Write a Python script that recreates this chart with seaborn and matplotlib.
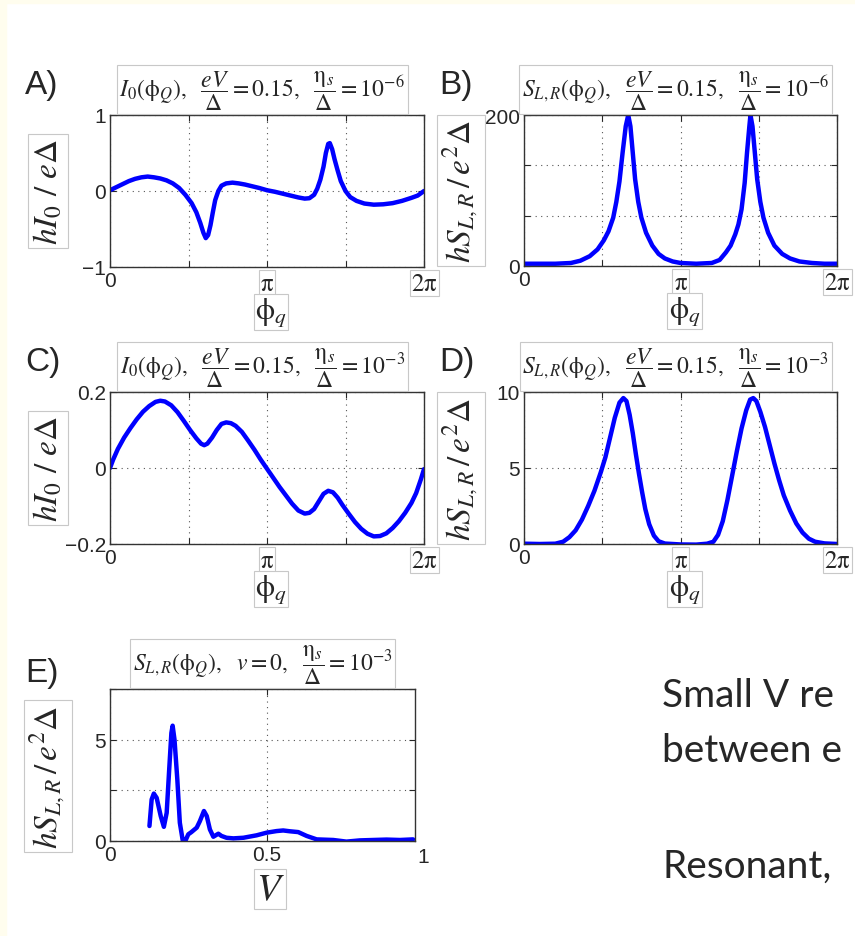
import numpy as np
import matplotlib
matplotlib.use('Agg')
import matplotlib.pyplot as plt
import seaborn as sns
from matplotlib.patches import Rectangle

# --- data (phase in units of pi) ---
a_phi = [0, 0.04, 0.08, 0.12, 0.16, 0.2, 0.24, 0.28, 0.32, 0.36, 0.40, 0.44, 0.48, 0.52,
         0.55, 0.575, 0.595, 0.61, 0.625, 0.64, 0.655, 0.67, 0.69, 0.71, 0.74, 0.78, 0.82,
         0.86, 0.90, 0.95, 1.0, 1.05, 1.10, 1.15, 1.20, 1.24, 1.27, 1.30, 1.32, 1.34, 1.36,
         1.375, 1.39, 1.40, 1.415, 1.43, 1.45, 1.47, 1.50, 1.53, 1.57, 1.62, 1.68, 1.74,
         1.80, 1.86, 1.92, 1.96, 2.0]
a_val = [0.01, 0.05, 0.09, 0.13, 0.16, 0.18, 0.19, 0.18, 0.165, 0.14, 0.10, 0.04, -0.05, -0.16,
         -0.28, -0.42, -0.55, -0.62, -0.58, -0.45, -0.28, -0.12, 0.0, 0.07, 0.10, 0.11, 0.10,
         0.085, 0.065, 0.04, 0.01, -0.01, -0.035, -0.06, -0.085, -0.1, -0.095, -0.05, 0.03, 0.15, 0.32,
         0.5, 0.62, 0.63, 0.55, 0.42, 0.27, 0.13, 0.0, -0.08, -0.13, -0.165, -0.18, -0.175,
         -0.16, -0.13, -0.09, -0.06, 0.0]

b_phi = [0, 0.1, 0.2, 0.3, 0.36, 0.42, 0.47, 0.51, 0.54, 0.57, 0.59, 0.61, 0.63, 0.65, 0.666,
         0.68, 0.695, 0.71, 0.73, 0.75, 0.78, 0.82, 0.86, 0.9, 0.95, 1.0, 1.1, 1.2, 1.25, 1.29,
         1.32, 1.35, 1.37, 1.39, 1.41, 1.425, 1.44, 1.447, 1.46, 1.475, 1.49, 1.51, 1.53, 1.56,
         1.6, 1.65, 1.7, 1.76, 1.84, 1.92, 2.0]
b_val = [3, 3, 3, 4, 7, 13, 22, 34, 46, 64, 85, 112, 150, 185, 200,
         185, 150, 115, 85, 64, 44, 27, 16, 10, 6, 4, 3, 4, 8, 18,
         27, 42, 55, 75, 110, 150, 185, 200, 185, 150, 115, 85, 64, 44,
         27, 16, 10, 6, 4, 3, 3]

c_phi = [0, 0.02, 0.05, 0.09, 0.13, 0.17, 0.21, 0.25, 0.29, 0.32, 0.35, 0.39, 0.43, 0.47,
         0.51, 0.55, 0.58, 0.60, 0.62, 0.65, 0.68, 0.71, 0.74, 0.77, 0.80, 0.84, 0.88, 0.92,
         0.96, 1.0, 1.04, 1.08, 1.12, 1.16, 1.2, 1.24, 1.27, 1.30, 1.33, 1.36, 1.39, 1.42,
         1.45, 1.48, 1.52, 1.56, 1.60, 1.64, 1.68, 1.72, 1.76, 1.80, 1.84, 1.88, 1.92, 1.95,
         1.98, 2.0]
c_val = [0.0, 0.022, 0.05, 0.08, 0.105, 0.128, 0.148, 0.163, 0.174, 0.177, 0.175, 0.165, 0.147, 0.124,
         0.1, 0.078, 0.064, 0.06, 0.064, 0.08, 0.1, 0.116, 0.12, 0.118, 0.111, 0.095, 0.072, 0.048,
         0.022, -0.002, -0.026, -0.05, -0.072, -0.094, -0.112, -0.12, -0.118, -0.108, -0.088, -0.068, -0.06, -0.064,
         -0.078, -0.097, -0.12, -0.142, -0.16, -0.173, -0.18, -0.179, -0.172, -0.158, -0.14, -0.118, -0.092, -0.066,
         -0.03, -0.003]

d_phi = [0, 0.1, 0.2, 0.25, 0.29, 0.33, 0.37, 0.41, 0.45, 0.49, 0.52, 0.55, 0.58, 0.61, 0.635,
         0.655, 0.675, 0.695, 0.715, 0.735, 0.755, 0.775, 0.8, 0.83, 0.86, 0.9, 0.95, 1.0, 1.1,
         1.17, 1.21, 1.24, 1.27, 1.3, 1.33, 1.36, 1.39, 1.42, 1.445, 1.465, 1.485, 1.51, 1.54,
         1.57, 1.6, 1.63, 1.66, 1.7, 1.74, 1.78, 1.82, 1.86, 1.92, 2.0]
d_val = [0.02, 0.0, 0.02, 0.15, 0.45, 0.9, 1.6, 2.5, 3.5, 4.7, 5.7, 7.0, 8.3, 9.3, 9.6,
         9.4, 8.5, 7.3, 5.9, 4.6, 3.4, 2.3, 1.3, 0.55, 0.18, 0.03, 0.0, -0.03, -0.04,
         0.02, 0.15, 0.6, 1.5, 2.9, 4.5, 6.1, 7.6, 8.8, 9.5, 9.6, 9.4, 8.7, 7.7,
         6.5, 5.3, 4.2, 3.2, 2.2, 1.35, 0.75, 0.35, 0.15, 0.04, 0.0]

e_v = [0.126, 0.133, 0.14, 0.149, 0.162, 0.172, 0.181, 0.189, 0.196, 0.2, 0.206, 0.215,
       0.223, 0.232, 0.239, 0.25, 0.26, 0.277, 0.287, 0.3, 0.309, 0.319, 0.33, 0.346,
       0.356, 0.372, 0.394, 0.426, 0.468, 0.5, 0.532, 0.553, 0.574, 0.601, 0.628, 0.66,
       0.713, 0.755, 0.798, 0.84, 0.883, 0.926, 0.968]
e_val = [0.74, 2.05, 2.34, 2.13, 1.23, 0.7, 1.39, 3.52, 5.33, 5.69, 5.0, 3.03,
         0.9, 0.05, -0.05, 0.33, 0.44, 0.66, 0.98, 1.48, 1.23, 0.57, 0.21, 0.36,
         0.25, 0.16, 0.13, 0.16, 0.28, 0.41, 0.49, 0.52, 0.48, 0.44, 0.25, 0.08,
         0.05, -0.03, 0.03, 0.05, 0.07, 0.05, 0.08]

phiQ = r"\left(\mathrm{\phi}_Q\right)"
title_a = r"$I_0" + phiQ + r",\ \ \dfrac{eV}{\Delta}=0.15,\ \ \dfrac{\mathrm{\eta}_s}{\Delta}=10^{-6}$"
title_b = r"$S_{L,R}" + phiQ + r",\ \ \dfrac{eV}{\Delta}=0.15,\ \ \dfrac{\mathrm{\eta}_s}{\Delta}=10^{-6}$"
title_c = r"$I_0" + phiQ + r",\ \ \dfrac{eV}{\Delta}=0.15,\ \ \dfrac{\mathrm{\eta}_s}{\Delta}=10^{-3}$"
title_d = r"$S_{L,R}" + phiQ + r",\ \ \dfrac{eV}{\Delta}=0.15,\ \ \dfrac{\mathrm{\eta}_s}{\Delta}=10^{-3}$"
title_e = r"$S_{L,R}" + phiQ + r",\ \ v=0,\ \ \dfrac{\mathrm{\eta}_s}{\Delta}=10^{-3}$"
ylab_i = r"$hI_0\ /\ e\Delta$"
ylab_s = r"$hS_{L,R}\,/\,e^2\Delta$"

sns.set_style('white')
plt.rcParams['font.family'] = ['Liberation Sans', 'DejaVu Sans']
plt.rcParams['mathtext.fontset'] = 'stix'

W, H = 855, 937
fig = plt.figure(figsize=(W / 100, H / 100), dpi=100)
fig.patch.set_facecolor('white')
# cream strips on the edges of the slide
fig.patches.append(Rectangle((0, 0), 6 / W, 1, transform=fig.transFigure, color='#fffdee', zorder=0))
fig.patches.append(Rectangle((0, 1 - 4 / H), 1, 4 / H, transform=fig.transFigure, color='#fffdee', zorder=0))


def fx(px):
    return px / W


def fy(py):
    return 1 - py / H


def box_ax(x0, y0, x1, y1):
    return fig.add_axes([fx(x0), fy(y1), (x1 - x0) / W, (y1 - y0) / H])


boxkw = dict(boxstyle='square,pad=0.12', fc='white', ec='#c8c8c8', lw=0.8)
boxkw_s = dict(boxstyle='square,pad=0.05', fc='white', ec='#c8c8c8', lw=0.8)


def style(ax, xlim, ylim, xt, xtl, yt, ytl):
    ax.set_xlim(*xlim)
    ax.set_ylim(*ylim)
    ax.set_xticks(xt)
    ax.set_xticklabels(xtl)
    ax.set_yticks(yt)
    ax.set_yticklabels(ytl)
    ax.grid(True, color='#555555', linestyle=(0, (1, 4)), linewidth=0.8)
    ax.tick_params(direction='in', length=4, width=0.8, labelsize=15, pad=3,
                   top=True, right=True, bottom=True, left=True)
    for s in ax.spines.values():
        s.set_color('#333333')
        s.set_linewidth(1)
    ax.set_xlabel('')
    ax.set_ylabel('')
    for t in ax.get_xticklabels():
        if 'pi' in t.get_text():
            t.set_fontsize(18)
            t.set_bbox(boxkw_s)


pi_ticks = np.pi * np.array([0, 0.5, 1, 1.5, 2])
pi_labels = ['0', '', r'$\mathrm{\pi}$', '', r'$2\mathrm{\pi}$']

panels = [
    ('A)', (110, 116, 424, 268), a_phi, a_val, (-1, 1), [-1, 0, 1], ['\u22121', '0', '1'], title_a, ylab_i, 48),
    ('B)', (524, 116, 837, 267), b_phi, b_val, (0, 200), [0, 200 / 3, 400 / 3, 200], ['0', '', '', '200'], title_b, ylab_s, 461),
    ('C)', (110, 393, 424, 545), c_phi, c_val, (-0.2, 0.2), [-0.2, 0, 0.2], ['\u22120.2', '0', '0.2'], title_c, ylab_i, 48),
    ('D)', (524, 393, 837, 545), d_phi, d_val, (0, 10), [0, 5, 10], ['0', '5', '10'], title_d, ylab_s, 461),
]

line_kw = dict(color='#0000ff', linewidth=3.2, solid_joinstyle='round', solid_capstyle='round')

for lab, (x0, y0, x1, y1), xs, ys, ylim, yt, ytl, ttl, ylab, ylx in panels:
    ax = box_ax(x0, y0, x1, y1)
    sns.lineplot(x=np.array(xs) * np.pi, y=ys, ax=ax, **line_kw)
    style(ax, (0, 2 * np.pi), ylim, pi_ticks, pi_labels, yt, ytl)
    fig.text(fx(x0 - 85), fy(y0 - 22), lab, fontsize=24, ha='left', va='baseline')
    ax.annotate(ttl, xy=(0.485, 1), xycoords='axes fraction', xytext=(0, 2.5), textcoords='offset points',
                fontsize=17, ha='center', va='bottom', bbox=boxkw)
    fig.text(fx(ylx), fy((y0 + y1) / 2), ylab, fontsize=24, rotation=90, ha='center', va='center', bbox=boxkw)
    fig.text(fx((x0 + x1) / 2 + 4), fy(y1 + 45), r'$\mathrm{\phi}_q$', fontsize=22, ha='center', va='center', bbox=boxkw_s)

# panel E
ax = box_ax(110, 690, 415, 842)
sns.lineplot(x=e_v, y=e_val, ax=ax, **line_kw)
style(ax, (0, 0.974), (0, 7.5), [0, 0.5], ['0', '0.5'], [0, 2.5, 5, 7.5], ['0', '', '5', ''])
ax.text(1.0, -0.04, '1', transform=ax.get_xaxis_transform(), fontsize=15, ha='center', va='top', clip_on=False)
fig.text(fx(25), fy(682), 'E)', fontsize=24, ha='left', va='baseline')
ax.annotate(title_e, xy=(0.5, 1), xycoords='axes fraction', xytext=(0, 2.5), textcoords='offset points',
            fontsize=17, ha='center', va='bottom', bbox=boxkw)
fig.text(fx(48), fy(777), ylab_s, fontsize=24, rotation=90, ha='center', va='center', bbox=boxkw)
fig.text(fx(270), fy(890), r'$V$', fontsize=28, ha='center', va='center', bbox=boxkw_s)

# slide text, cut by the right edge
for txt, yb in [('Small V re', 707), ('between e', 762), ('Resonant,', 878)]:
    fig.text(fx(662), fy(yb), txt, fontsize=28, family=['Lato', 'DejaVu Sans'], ha='left', va='baseline')

fig.savefig('out.png', dpi=100)
